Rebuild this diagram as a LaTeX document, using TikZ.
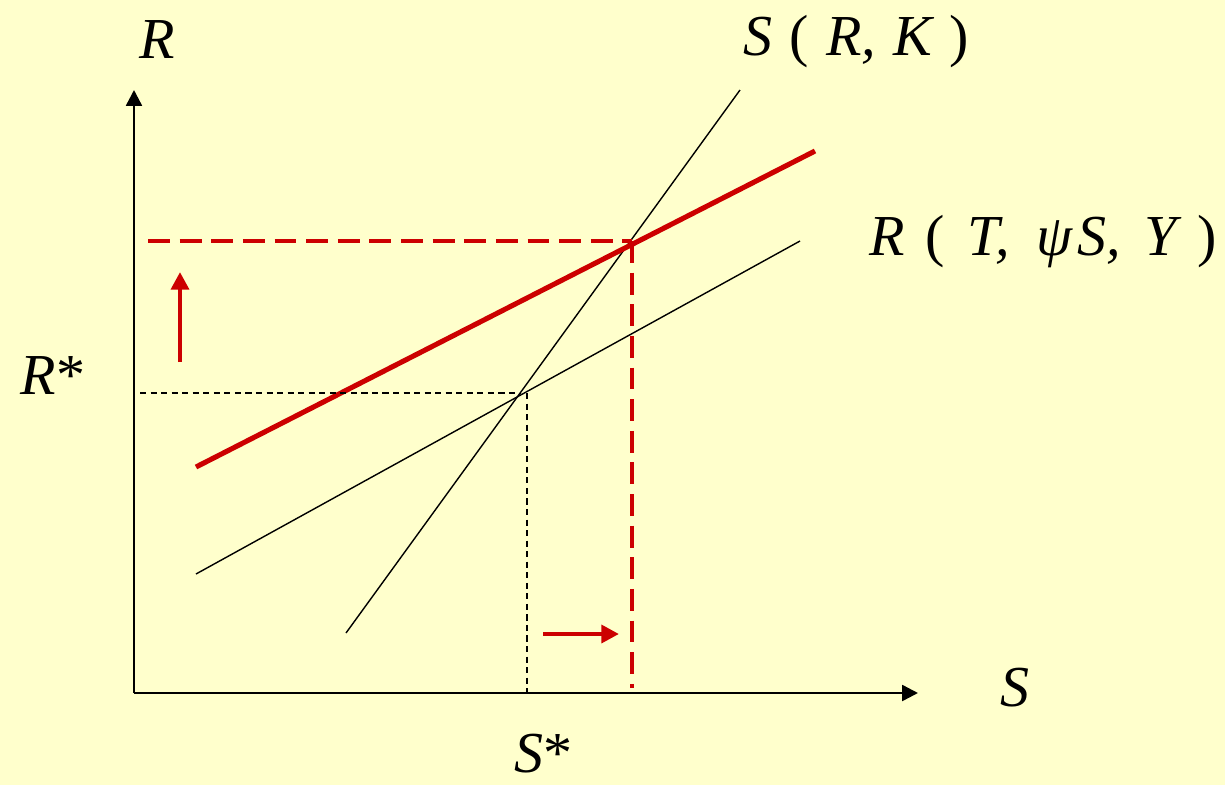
\documentclass[tikz,border=0pt]{standalone}
\usepackage{fontspec}
\setmainfont{Liberation Serif}
\usetikzlibrary{arrows.meta}
\definecolor{bgyellow}{HTML}{FFFFCC}
\definecolor{shiftred}{HTML}{CC0000}
\tikzstyle{axis} = [line width=1.4pt, -{Triangle[length=9pt,width=9pt]}]
\tikzstyle{curve} = [line width=0.8pt]
\tikzstyle{newcurve} = [line width=2.9pt, shiftred]
\tikzstyle{guide} = [line width=0.7pt, dash pattern=on 3.5pt off 2.5pt]
\tikzstyle{newguide} = [line width=2.8pt, shiftred, dash pattern=on 12.5pt off 5.5pt]
\tikzstyle{shiftarrow} = [line width=2.8pt, shiftred, -{Triangle[length=10pt,width=10pt]}]
\tikzstyle{lab} = [font=\fontsize{33}{38}\selectfont\itshape, inner sep=0pt]
\begin{document}
\begin{tikzpicture}[x=0.02cm, y=-0.02cm]
      \fill[bgyellow] (0,0) rectangle (1225,785);
      % axes
      \coordinate (O) at (134,693);
      \coordinate (ytip) at (134,90);
      \coordinate (xtip) at (918,693);
      \draw[axis] (O)--(ytip);
      \draw[axis] (O)--(xtip);
      % curves
      \coordinate (s1) at (346,633);
      \coordinate (s2) at (740,90);
      \coordinate (r1) at (196,574);
      \coordinate (r2) at (800,241);
      \coordinate (n1) at (196,467);
      \coordinate (n2) at (815,151);
      \draw[curve] (s1)--(s2);
      \draw[curve] (r1)--(r2);
      \draw[newcurve] (n1)--(n2);
      % old equilibrium
      \coordinate (e) at (520,393);
      \coordinate (eR) at (140,393);
      \coordinate (eS) at (527,693);
      \coordinate (eup) at (527,393);
      \draw[guide] (eR)--(e);
      \draw[guide] (eup)--(eS);
      % new equilibrium
      \coordinate (f) at (632,241);
      \coordinate (fR) at (148,241);
      \coordinate (fS) at (632,688);
      \draw[newguide] (fR)--(f);
      \draw[newguide] (f)--(fS);
      % shifts
      \coordinate (ua) at (180,362);
      \coordinate (ub) at (180,272);
      \coordinate (ra) at (543,634);
      \coordinate (rb) at (619,634);
      \draw[shiftarrow] (ua)--(ub);
      \draw[shiftarrow] (ra)--(rb);
      % labels
      \node (rax)[lab] at (157,40) {R};
      \node (sax)[lab] at (1015,688) {S};
      \node (rstar)[lab] at (53,376) {R\upshape*};
      \node (sstar)[lab] at (543,754) {S\upshape*};
      \node (slab)[lab] at (856,42) {S\hspace{0.3em}\upshape(\hspace{0.3em}\itshape R,\hspace{0.3em}K\hspace{0.3em}\upshape)};
      \node (rlabel)[lab] at (1043,242) {R\hspace{0.35em}\upshape(\hspace{0.4em}\itshape T,\hspace{0.45em}ψ\hspace{0.1em}S,\hspace{0.4em}Y\hspace{0.35em}\upshape)};
    \end{tikzpicture}
\end{document}
